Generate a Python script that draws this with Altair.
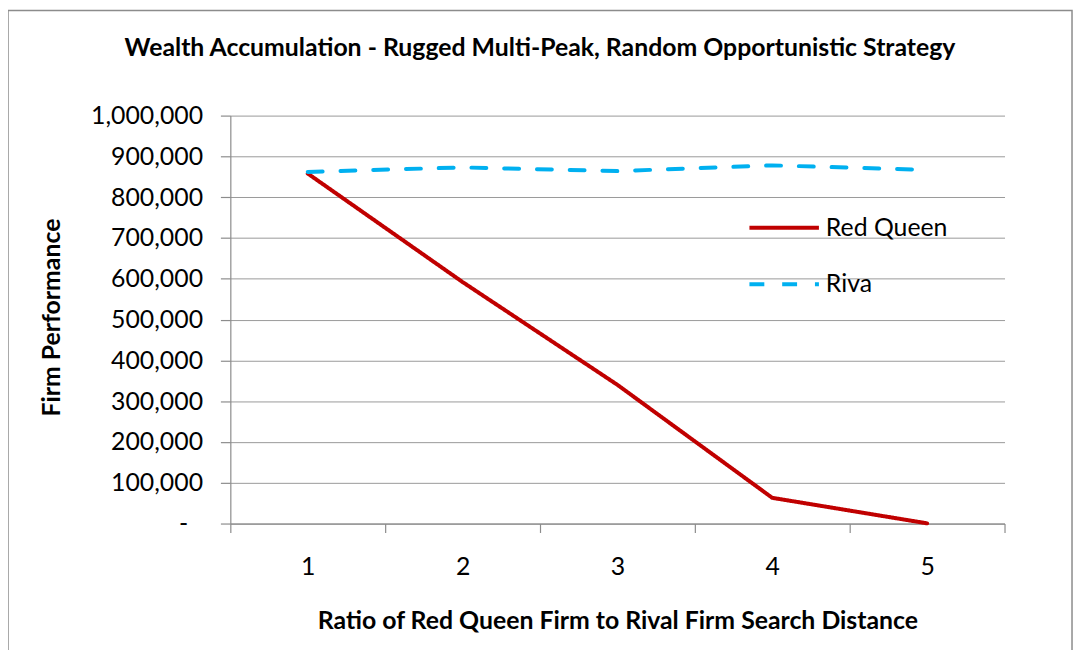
import altair as alt
import pandas as pd

ratios = [1, 2, 3, 4, 5]
red_queen = [858000, 592000, 340000, 63000, 500]
riva = [862000, 873000, 864000, 878000, 867000]
series_names = ["Red Queen", "Riva"]
y_ticks = [0, 100000, 200000, 300000, 400000, 500000, 600000, 700000, 800000, 900000, 1000000]
x_ticks = [0.5, 1.5, 2.5, 3.5, 4.5, 5.5]

rows = []
for name, vals in zip(series_names, [red_queen, riva]):
    for r, v in zip(ratios, vals):
        rows.append({"ratio": r, "value": v, "series": name})
df = pd.DataFrame(rows)

FONT = "Lato"
GRAY = "#8c8c8c"

leg = alt.Legend(title=None, orient="none", legendX=521, legendY=76,
                 symbolType="stroke", symbolSize=4900, symbolStrokeWidth=4,
                 rowPadding=7, labelOffset=5)

lines = alt.Chart(df).mark_line(strokeWidth=4, strokeCap="round", strokeJoin="round").encode(
    x=alt.X("ratio:Q",
            scale=alt.Scale(domain=[0.5, 5.5], nice=False, zero=False),
            axis=alt.Axis(values=x_ticks, tickSize=9, labelOffset=78, labelFlush=False,
                          labelExpr="datum.value < 5 ? format(datum.value + 0.5, 'd') : ''",
                          grid=False, labelPadding=22,
                          title="Ratio of Red Queen Firm to Rival Firm Search Distance",
                          titlePadding=30)),
    y=alt.Y("value:Q",
            scale=alt.Scale(domain=[0, 1000000], nice=False),
            axis=alt.Axis(values=y_ticks, tickSize=10,
                          labelPadding={"condition": {"test": "datum.value == 0", "value": 33}, "value": 18},
                          labelExpr="datum.value == 0 ? '-' : format(datum.value, ',')",
                          title="Firm Performance", titleX=-180, titleY=203,
                          titleAngle=270, titleAlign="center", titleBaseline="middle")),
    color=alt.Color("series:N", scale=alt.Scale(domain=series_names, range=["#C00000", "#00B0F0"]),
                    legend=leg),
    strokeDash=alt.StrokeDash("series:N", scale=alt.Scale(domain=series_names, range=[[1, 0], [15, 18]]),
                              legend=leg),
)

frame = alt.Chart(pd.DataFrame({"a": [0]})).mark_rect(filled=False, stroke="#8c8c8c", strokeWidth=1.5).encode(
    x=alt.value(-224), x2=alt.value(848), y=alt.value(-106), y2=alt.value(700)
)

chart = alt.layer(frame, lines).properties(
    width=780, height=411,
    background="white",
    autosize=alt.AutoSizeParams(type="none"),
    padding={"left": 224, "top": 106, "right": 70, "bottom": 125},
    title=alt.Title("Wealth Accumulation - Rugged Multi-Peak, Random Opportunistic Strategy",
                    font=FONT, fontSize=25, fontWeight="bold", color="black",
                    frame="group", anchor="middle", dx=-78, offset=0, dy=52),
).configure_view(stroke=None).configure_axis(
    labelFont=FONT, labelFontSize=25, labelColor="black",
    titleFont=FONT, titleFontSize=25, titleFontWeight="bold", titleColor="black",
    domainColor=GRAY, tickColor=GRAY, gridColor="#999999", domainWidth=1.2, tickWidth=1.2,
).configure_legend(
    labelFont=FONT, labelFontSize=25, labelColor="black"
)

chart.save("out.html", embed_options={"renderer": "svg", "actions": False})
